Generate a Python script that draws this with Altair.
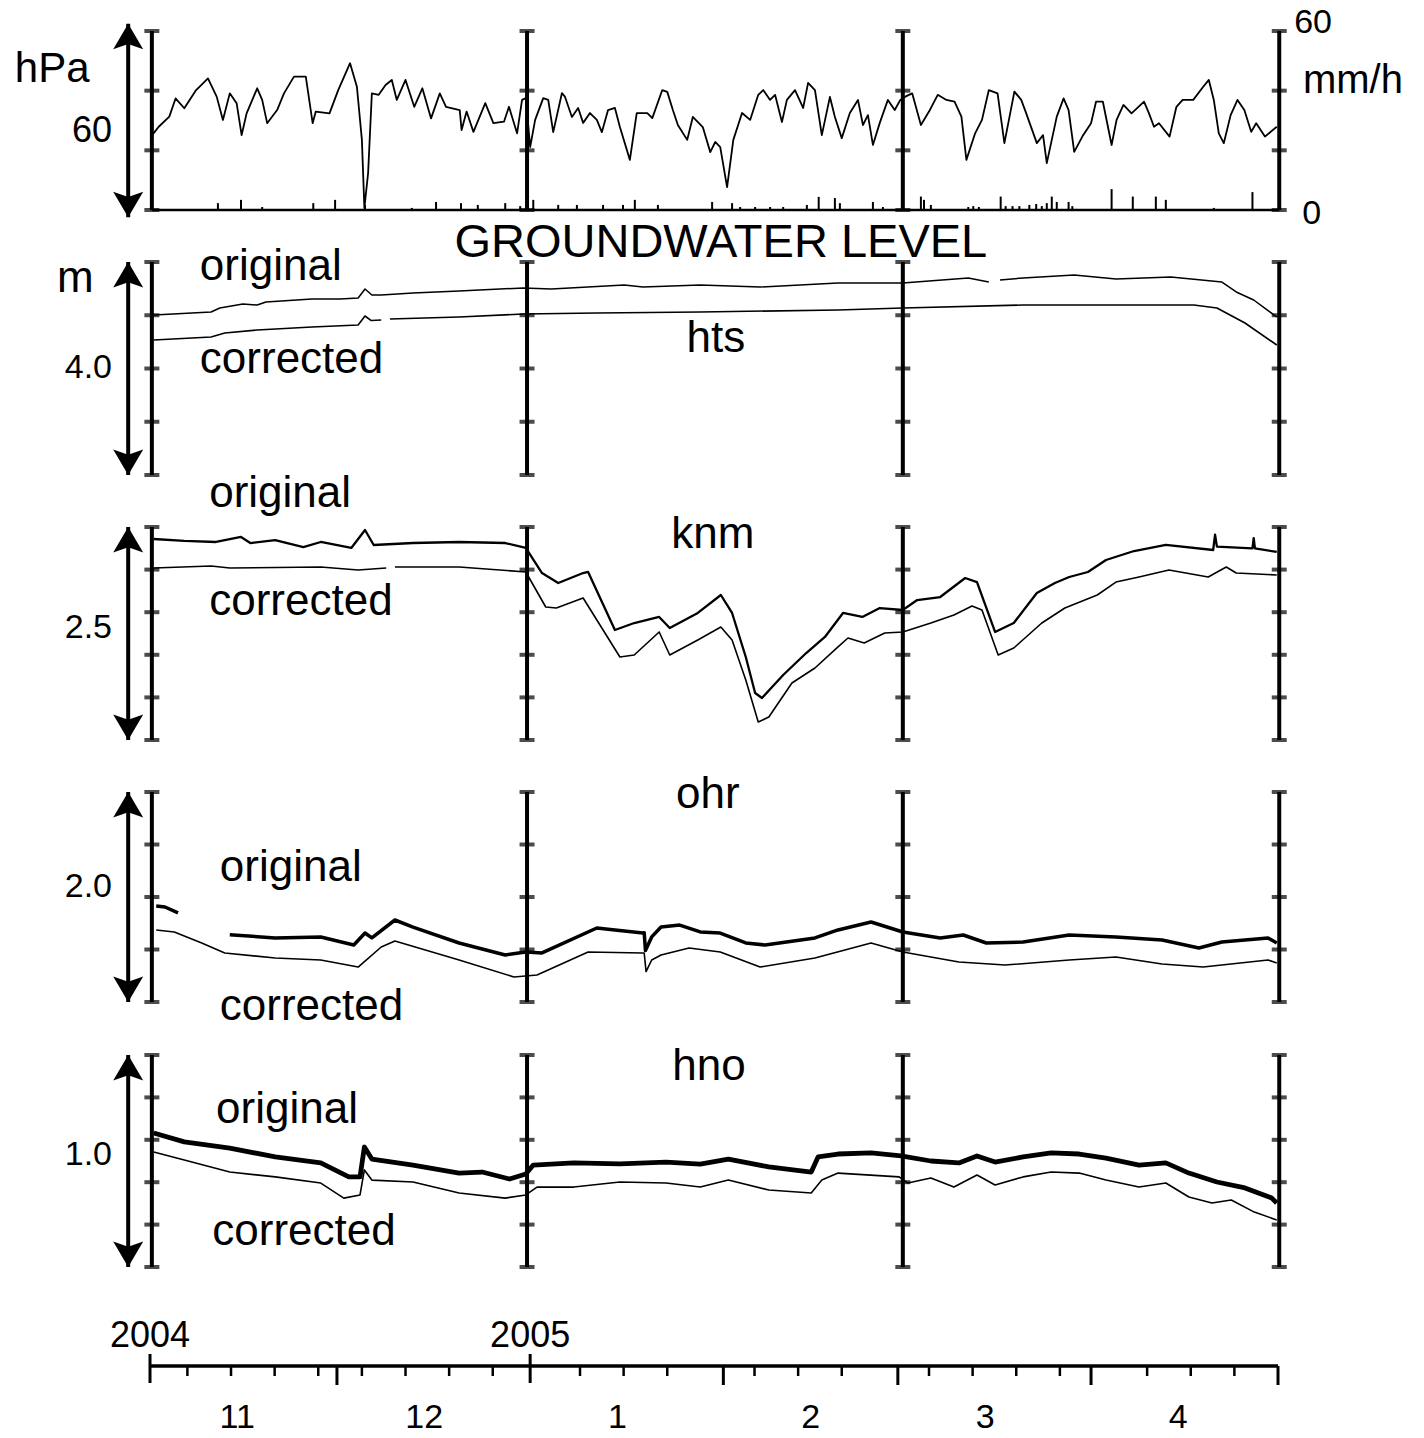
import altair as alt
import pandas as pd

FONT = "Liberation Sans"

# ---------------- data (day = days since 2004-11-01) ----------------
PRESSURE = [  # (day, hPa)
    (0.5, 995.5), (1.4, 997.9), (3.1, 1001.3), (4.1, 1007.4), (5.5, 1004.1), (7.4, 1010.2), (9.3, 1014.1),
    (10.7, 1008.0), (11.7, 1000.2), (12.8, 1009.1), (13.9, 1005.8), (14.7, 995.1), (15.5, 1002.4), (17.2, 1010.8),
    (18.0, 1006.9), (18.8, 999.1), (20.4, 1003.5), (21.5, 1009.1), (23.1, 1014.7), (25.0, 1014.7), (26.1, 999.1),
    (26.6, 1003.0), (28.8, 1002.4), (30.2, 1010.2), (32.1, 1019.2), (33.2, 1011.3), (34.0, 993.5), (34.4, 970.7),
    (35.0, 982.4), (35.6, 1009.1), (36.7, 1008.6), (37.8, 1011.9), (38.8, 1013.6), (39.6, 1006.9), (41.0, 1013.6),
    (42.4, 1004.6), (43.7, 1010.8), (45.1, 1000.7), (46.5, 1009.1), (47.5, 1004.6), (49.7, 1003.5), (50.0, 996.8),
    (50.8, 1003.0), (51.9, 996.2), (53.8, 1005.8), (55.1, 999.1), (56.8, 999.6), (57.6, 1004.6), (58.9, 995.7),
    (59.7, 1006.9), (60.3, 1007.5), (61.0, 991.1), (61.8, 1000.2), (63.1, 1007.5), (63.9, 1006.9), (64.7, 996.1),
    (66.1, 1009.2), (66.6, 1007.9), (67.7, 1001.2), (68.7, 1004.2), (69.5, 999.2), (70.6, 1002.5), (71.7, 1000.2),
    (72.5, 996.1), (73.5, 1003.5), (74.6, 1004.2), (75.4, 997.8), (77.0, 986.8), (78.1, 1002.5), (79.8, 1002.5),
    (80.6, 1000.8), (82.2, 1010.2), (83.0, 1009.6), (83.9, 1003.5), (84.7, 998.5), (86.2, 993.5), (87.1, 1001.2),
    (88.7, 997.8), (89.9, 989.4), (90.7, 992.8), (91.5, 991.1), (92.6, 977.7), (93.6, 993.5), (95.0, 1002.5),
    (96.3, 1000.2), (97.6, 1008.6), (98.4, 1010.2), (99.5, 1006.9), (100.3, 1008.6), (101.4, 999.5), (102.2, 1006.9),
    (103.5, 1010.2), (104.8, 1004.2), (105.6, 1012.6), (106.7, 1010.2), (107.8, 995.1), (109.1, 1007.9),
    (109.9, 1001.2), (111.0, 994.1), (112.3, 1002.5), (113.6, 1006.9), (114.4, 998.5), (115.2, 1001.8),
    (116.0, 991.8), (117.1, 999.2), (118.4, 1006.9), (119.5, 1003.5), (120.4, 1006.9), (121.2, 1008.0),
    (122.3, 1009.1), (123.7, 998.5), (125.0, 1003.0), (126.4, 1008.6), (127.8, 1006.9), (129.1, 1006.3),
    (130.2, 1001.3), (131.0, 986.8), (132.4, 995.7), (133.5, 1000.2), (134.6, 1010.2), (136.0, 1009.1),
    (137.1, 992.4), (138.7, 1009.7), (139.8, 1006.9), (140.6, 1002.4), (142.3, 992.4), (143.3, 995.1),
    (143.9, 985.7), (145.5, 1001.3), (146.6, 1007.4), (147.4, 1003.5), (148.3, 989.5), (149.6, 994.6),
    (151.0, 999.1), (151.8, 1006.3), (152.9, 1006.3), (154.3, 991.8), (155.1, 1000.2), (156.2, 1005.2),
    (157.5, 1002.4), (159.5, 1006.3), (160.3, 1002.4), (161.1, 997.9), (161.9, 999.1), (163.6, 994.6),
    (164.7, 1004.6), (165.7, 1006.9), (167.4, 1006.9), (169.0, 1011.3), (169.9, 1013.6), (170.7, 1006.9),
    (171.5, 995.7), (172.3, 992.4), (173.4, 1001.8), (174.5, 1006.9), (175.6, 1003.5), (176.7, 996.2),
    (177.5, 999.1), (178.9, 994.6), (180.8, 997.9),
]

RAIN = [  # (day, mm/h)
    (10.9, 2.3), (14.6, 3.4), (18.0, 1.0), (26.2, 2.3), (29.7, 3.4), (34.5, 1.7), (42.0, 0.7), (45.9, 2.7),
    (49.9, 2.3), (52.6, 1.7), (57.0, 2.3), (59.4, 1.3), (61.5, 3.4), (65.5, 1.7), (68.5, 1.7), (72.7, 1.7),
    (75.9, 1.7), (77.8, 3.4), (81.5, 1.7), (90.2, 2.7), (93.4, 2.3), (94.7, 1.0), (97.1, 1.0), (99.5, 1.0),
    (101.6, 1.0), (105.4, 1.7), (107.3, 4.4), (109.9, 4.0), (110.7, 2.3), (116.0, 2.7), (117.6, 1.0),
    (123.7, 4.5), (124.2, 3.4), (125.3, 1.7), (131.3, 1.0), (132.1, 1.3), (133.0, 1.0), (136.5, 4.5),
    (137.3, 1.3), (138.4, 1.3), (139.5, 1.3), (141.1, 1.7), (142.2, 2.0), (143.1, 1.3), (143.9, 2.3),
    (144.7, 4.5), (145.5, 2.7), (147.4, 2.7), (148.0, 1.3), (154.3, 7.0), (157.7, 4.5), (161.4, 4.5),
    (163.0, 3.4), (170.7, 0.7), (176.9, 6.0),
]

# groundwater levels (m, relative to bottom of each panel); None = gap in record
HTS_ORIGINAL = [
    (0.6, 3.005), (9.8, 3.061), (11.2, 3.136), (14.9, 3.211), (17.2, 3.192), (18.6, 3.249), (26.0, 3.305),
    (30.5, 3.305), (33.4, 3.324), (34.5, 3.493), (35.6, 3.380), (37.1, 3.380), (42.2, 3.418), (49.6, 3.455),
    (59.9, 3.512), (64.4, 3.493), (76.1, 3.568), (79.1, 3.531), (88.3, 3.568), (97.9, 3.531), (110.4, 3.606),
    (120.8, 3.606), (131.3, 3.700), (134.6, 3.624), None, (136.4, 3.662), (140.1, 3.700), (148.3, 3.756),
    (155.0, 3.681), (163.8, 3.718), (172.0, 3.624), (174.3, 3.437), (177.1, 3.286), (180.8, 2.967),
]
HTS_CORRECTED = [
    (0.6, 2.535), (9.8, 2.592), (12.0, 2.667), (17.2, 2.723), (26.0, 2.779), (33.4, 2.817), (34.5, 2.986),
    (35.5, 2.900), (37.1, 2.911), None, (38.5, 2.930), (49.6, 2.967), (59.9, 3.023), (71.7, 3.042),
    (88.3, 3.061), (110.4, 3.099), (120.8, 3.136), (140.1, 3.192), (167.5, 3.192), (171.2, 3.136),
    (175.7, 2.854), (180.8, 2.441),
]
KNM_ORIGINAL = [
    (0.6, 2.359), (5.5, 2.336), (10.6, 2.324), (14.6, 2.383), (16.1, 2.312), (20.1, 2.347), (24.6, 2.265),
    (27.4, 2.324), (32.3, 2.254), (34.5, 2.465), (35.9, 2.289), (42.2, 2.312), (49.6, 2.324), (57.0, 2.312),
    (60.3, 2.254), (62.9, 1.960), (65.5, 1.843), (69.5, 1.960), (70.3, 1.972), (74.6, 1.291), (77.7, 1.373),
    (81.7, 1.444), (83.4, 1.315), (87.9, 1.491), (91.6, 1.702), (93.4, 1.491), (95.6, 0.974), (97.1, 0.552),
    (98.2, 0.493), (101.6, 0.763), (105.3, 1.021), (108.3, 1.209), (111.2, 1.491), (114.3, 1.444),
    (117.1, 1.549), (120.8, 1.526), (123.1, 1.643), (126.8, 1.678), (130.8, 1.901), (132.7, 1.854),
    (135.6, 1.268), (138.6, 1.373), (142.3, 1.725), (145.2, 1.843), (147.5, 1.913), (150.5, 1.972),
    (153.4, 2.113), (157.9, 2.218), (163.0, 2.289), (170.6, 2.230), (170.9, 2.410), (171.2, 2.270),
    (176.9, 2.250), (177.1, 2.370), (177.3, 2.250), (180.8, 2.207),
]
KNM_CORRECTED = [
    (0.6, 2.019), (9.8, 2.042), (12.8, 2.019), (27.4, 2.031), (33.4, 1.995), (37.9, 2.019), None,
    (39.3, 2.031), (49.6, 2.031), (60.3, 1.972), (63.5, 1.561), (65.2, 1.549), (69.5, 1.667), (75.4, 0.974),
    (77.7, 0.998), (81.7, 1.268), (83.4, 0.998), (87.9, 1.174), (91.6, 1.326), (93.4, 1.174), (95.6, 0.704),
    (97.6, 0.211), (99.3, 0.270), (103.0, 0.669), (106.7, 0.845), (110.4, 1.092), (112.0, 1.197),
    (114.6, 1.138), (117.9, 1.256), (120.8, 1.268), (125.3, 1.373), (129.0, 1.467), (131.9, 1.573),
    (133.5, 1.526), (136.1, 0.998), (138.6, 1.080), (143.1, 1.373), (146.8, 1.549), (152.0, 1.702),
    (155.0, 1.854), (158.7, 1.913), (163.5, 1.995), (169.8, 1.913), (172.7, 2.031), (174.3, 1.960),
    (180.8, 1.937),
]
OHR_ORIGINAL = [
    (1.0, 0.914), (2.4, 0.905), (4.5, 0.848), None,
    (12.8, 0.640), (20.1, 0.610), (27.4, 0.619), (32.7, 0.543), (34.5, 0.657), (35.6, 0.610), (39.3, 0.781),
    (42.2, 0.714), (49.6, 0.562), (57.0, 0.448), (60.3, 0.476), (62.9, 0.467), (71.7, 0.705), (74.6, 0.686),
    (79.1, 0.657), (79.3, 0.660), (79.5, 0.490), (80.5, 0.620), (82.0, 0.714), (85.0, 0.733), (88.3, 0.667),
    (91.5, 0.657), (95.6, 0.562), (98.7, 0.543), (106.7, 0.610), (110.4, 0.686), (115.7, 0.762),
    (120.8, 0.667), (126.8, 0.610), (130.5, 0.638), (134.2, 0.562), (140.1, 0.571), (147.5, 0.638),
    (155.0, 0.619), (162.4, 0.590), (168.3, 0.514), (172.0, 0.571), (179.4, 0.610), (180.8, 0.562),
]
OHR_CORRECTED = [
    (1.0, 0.686), (3.9, 0.667), (8.3, 0.562), (12.0, 0.467), (20.1, 0.419), (27.4, 0.400), (33.4, 0.333),
    (37.1, 0.524), (39.3, 0.581), (49.6, 0.400), (58.4, 0.238), (62.1, 0.257), (70.3, 0.476), (79.1, 0.467),
    (79.3, 0.467), (79.6, 0.290), (80.5, 0.400), (82.0, 0.448), (86.5, 0.514), (91.5, 0.476), (97.9, 0.333),
    (106.7, 0.419), (115.7, 0.562), (120.8, 0.476), (129.8, 0.381), (137.2, 0.352), (147.5, 0.400),
    (155.0, 0.429), (162.4, 0.362), (169.0, 0.333), (179.4, 0.400), (180.8, 0.371),
]
HNO_ORIGINAL = [
    (0.6, 0.632), (5.5, 0.590), (12.8, 0.561), (20.1, 0.519), (27.4, 0.491), (31.9, 0.425), (33.7, 0.425),
    (34.4, 0.566), (35.6, 0.509), (42.2, 0.481), (49.6, 0.443), (53.3, 0.448), (57.7, 0.415), (60.3, 0.439),
    (61.5, 0.481), (68.0, 0.491), (75.4, 0.486), (82.8, 0.495), (88.3, 0.485), (92.8, 0.509), (99.3, 0.472),
    (106.1, 0.448), (107.2, 0.519), (110.4, 0.533), (115.7, 0.538), (120.5, 0.524), (125.3, 0.500),
    (129.8, 0.491), (132.7, 0.524), (135.6, 0.495), (140.1, 0.519), (144.6, 0.538), (149.1, 0.533),
    (153.4, 0.514), (158.7, 0.481), (163.0, 0.491), (166.7, 0.443), (171.2, 0.401), (175.7, 0.373),
    (180.0, 0.325), (180.8, 0.302),
]
HNO_CORRECTED = [
    (0.6, 0.542), (5.5, 0.505), (12.8, 0.448), (20.1, 0.425), (27.4, 0.396), (31.1, 0.325), (33.7, 0.340),
    (34.4, 0.458), (35.6, 0.410), (42.2, 0.401), (49.6, 0.349), (57.0, 0.325), (60.3, 0.340), (62.1, 0.377),
    (68.0, 0.377), (75.4, 0.401), (82.8, 0.396), (88.3, 0.377), (92.8, 0.410), (99.3, 0.363), (106.1, 0.349),
    (107.8, 0.410), (110.4, 0.443), (120.2, 0.425), (121.6, 0.396), (125.3, 0.420), (129.0, 0.377),
    (132.7, 0.434), (135.6, 0.387), (140.1, 0.425), (144.6, 0.448), (149.1, 0.443), (153.4, 0.410),
    (158.7, 0.377), (163.0, 0.396), (166.7, 0.330), (170.4, 0.302), (173.5, 0.316), (177.2, 0.259),
    (180.8, 0.222),
]

TITLE = "GROUNDWATER LEVEL"
SITES = ["hts", "knm", "ohr", "hno"]
SITE_SPANS = ["4.0", "2.5", "2.0", "1.0"]
SERIES_NAMES = ["original", "corrected"]
PRESSURE_UNIT, PRESSURE_SPAN = "hPa", "60"
RAIN_UNIT, RAIN_MAX, RAIN_MIN = "mm/h", "60", "0"
LEVEL_UNIT = "m"
YEAR_LABELS = ["2004", "2005"]
YEAR_DAYS = [0, 61]
MONTH_LABELS = ["11", "12", "1", "2", "3", "4"]
MONTH_MID_DAYS = [14, 44, 75, 106, 134, 165]
MONTH_START_DAYS = [30, 92, 120, 151, 181]
WEEK_DAYS = [6, 13, 20, 27, 34, 41, 48, 55, 69, 76, 83, 97, 104, 111, 125, 132, 139, 146, 160, 167, 174]
DIVIDER_DAYS = [0.3, 60.5, 120.8, 181.2]

# ---------------- layout ----------------
PANELS = {
    "pres": dict(domain=[970, 1030], range=[210, 31], ticks=[970, 990, 1010, 1030]),
    "rain": dict(domain=[0, 60], range=[210, 31]),
    "hts": dict(domain=[0, 4.0], range=[475, 262], ticks=[0, 1, 2, 3, 4]),
    "knm": dict(domain=[0, 2.5], range=[740, 527], ticks=[0, 0.5, 1, 1.5, 2, 2.5]),
    "ohr": dict(domain=[0, 2.0], range=[1002, 792], ticks=[0, 0.5, 1, 1.5, 2]),
    "hno": dict(domain=[0, 1.0], range=[1267, 1055], ticks=[0, 0.2, 0.4, 0.6, 0.8, 1.0]),
}
XS = alt.Scale(domain=[0, 181], nice=False, zero=False)


def ysc(p):
    d = PANELS[p]
    return alt.Scale(domain=d["domain"], range=d["range"], nice=False, zero=False)


def X(field="day"):
    return alt.X(f"{field}:Q", scale=XS, axis=None)


def Y(p, field="v"):
    return alt.Y(f"{field}:Q", scale=ysc(p), axis=None)


def line_layer(pairs, p, width):
    rows, seg = [], 0
    for item in pairs:
        if item is None:
            seg += 1
            continue
        rows.append({"day": item[0], "v": item[1], "seg": seg})
    return alt.Chart(pd.DataFrame(rows)).mark_line(
        color="black", strokeWidth=width, strokeJoin="round"
    ).encode(x=X(), y=Y(p), detail="seg:N", order="day:Q")


def text_layer(p, s, day, v, size, align="left"):
    df = pd.DataFrame({"day": [day], "v": [v], "t": [s]})
    return alt.Chart(df).mark_text(
        align=align, baseline="alphabetic", fontSize=size, font=FONT, color="black"
    ).encode(x=X(), y=Y(p), text="t:N")


def text_px(s, day, ypx, size, align="center"):
    df = pd.DataFrame({"day": [day], "t": [s]})
    return alt.Chart(df).mark_text(
        align=align, baseline="alphabetic", fontSize=size, font=FONT, color="black"
    ).encode(x=X(), y=alt.value(ypx), text="t:N")


ARROW_UP = "M0,0L1,1.7L0,1.35L-1,1.7Z"
ARROW_DOWN = "M0,0L1,-1.7L0,-1.35L-1,-1.7Z"


def frame_layers(p, arrow_ext=0.0):
    d = PANELS[p]
    lo, hi = d["domain"]
    out = []
    bars = pd.DataFrame({"day": DIVIDER_DAYS, "lo": lo, "hi": hi})
    out.append(alt.Chart(bars).mark_rule(color="black", strokeWidth=4).encode(
        x=X(), y=Y(p, "lo"), y2=alt.Y2("hi")))
    ticks = pd.DataFrame([{"day": x, "v": t} for x in DIVIDER_DAYS for t in d["ticks"]])
    out.append(alt.Chart(ticks).mark_tick(orient="horizontal", size=15, thickness=4, color="black").encode(
        x=X(), y=Y(p)))
    ext = (hi - lo) * arrow_ext
    arr = pd.DataFrame({"day": [-3.5], "lo": [lo - ext], "hi": [hi + ext]})
    out.append(alt.Chart(arr).mark_rule(color="black", strokeWidth=4).encode(
        x=X(), y=Y(p, "lo"), y2=alt.Y2("hi")))
    out.append(alt.Chart(arr).mark_point(shape=ARROW_UP, filled=True, size=900, color="black", opacity=1).encode(
        x=X(), y=Y(p, "hi")))
    out.append(alt.Chart(arr).mark_point(shape=ARROW_DOWN, filled=True, size=900, color="black", opacity=1).encode(
        x=X(), y=Y(p, "lo")))
    return out


layers = []

# ---- top panel: pressure + rain ----
layers.append(line_layer(PRESSURE, "pres", 1.8))
rain_df = pd.DataFrame({"day": [r[0] for r in RAIN], "v": [r[1] for r in RAIN], "base": 0.0})
layers.append(alt.Chart(rain_df).mark_rule(color="black", strokeWidth=2).encode(
    x=X(), y=Y("rain"), y2=alt.Y2("base")))
base_df = pd.DataFrame({"d0": [DIVIDER_DAYS[0]], "d1": [DIVIDER_DAYS[-1]], "v": [970]})
layers.append(alt.Chart(base_df).mark_rule(color="black", strokeWidth=2.5).encode(
    x=X("d0"), x2=alt.X2("d1"), y=Y("pres")))
layers += frame_layers("pres", arrow_ext=0.04)
layers.append(text_layer("pres", PRESSURE_UNIT, -15.7, 1012.9, 42, "center"))
layers.append(text_layer("pres", PRESSURE_SPAN, -6.1, 992.8, 36, "right"))
layers.append(text_layer("rain", RAIN_MAX, 183.6, 59.3, 34, "left"))
layers.append(text_layer("rain", RAIN_UNIT, 185.0, 39.2, 40, "left"))
layers.append(text_layer("rain", RAIN_MIN, 184.9, -4.7, 34, "left"))

# ---- groundwater panels ----
series = {
    "hts": (HTS_ORIGINAL, HTS_CORRECTED, 1.5),
    "knm": (KNM_ORIGINAL, KNM_CORRECTED, 2.3),
    "ohr": (OHR_ORIGINAL, OHR_CORRECTED, 3.5),
    "hno": (HNO_ORIGINAL, HNO_CORRECTED, 4.8),
}
# label placement: (site label day/value, "original" day/value, "corrected" day/value, span value)
placement = {
    "hts": ((90.8, 2.310), (8.0, 3.662), (8.0, 1.915), 1.822),
    "knm": ((90.3, 2.254), (9.5, 2.735), (9.5, 1.467), 1.197),
    "ohr": ((89.5, 1.848), (11.2, 1.152), (11.2, -0.171), 1.0),
    "hno": ((89.7, 0.882), (10.6, 0.679), (10.0, 0.104), 0.481),
}
for site, span in zip(SITES, SITE_SPANS):
    orig, corr, w = series[site]
    layers.append(line_layer(orig, site, w))
    layers.append(line_layer(corr, site, 1.6))
    layers += frame_layers(site)
    (sd, sv), (od, ov), (cd, cv), spv = placement[site]
    layers.append(text_layer(site, site, sd, sv, 44, "center"))
    layers.append(text_layer(site, SERIES_NAMES[0], od, ov, 44, "left"))
    layers.append(text_layer(site, SERIES_NAMES[1], cd, cv, 44, "left"))
    layers.append(text_layer(site, span, -6.1, spv, 34, "right"))

layers.append(text_layer("hts", TITLE, 91.6, 4.094, 47, "center"))
layers.append(text_layer("hts", LEVEL_UNIT, -12.0, 3.437, 44, "center"))

# ---- bottom time axis ----
axis_df = pd.DataFrame({"d0": [0], "d1": [181]})
layers.append(alt.Chart(axis_df).mark_rule(color="black", strokeWidth=3.5).encode(
    x=X("d0"), x2=alt.X2("d1"), y=alt.value(1366)))
layers.append(alt.Chart(pd.DataFrame({"day": YEAR_DAYS})).mark_rule(color="black", strokeWidth=3).encode(
    x=X(), y=alt.value(1354), y2=alt.value(1383)))
layers.append(alt.Chart(pd.DataFrame({"day": MONTH_START_DAYS})).mark_rule(color="black", strokeWidth=3).encode(
    x=X(), y=alt.value(1366), y2=alt.value(1385)))
layers.append(alt.Chart(pd.DataFrame({"day": WEEK_DAYS})).mark_rule(color="black", strokeWidth=2.5).encode(
    x=X(), y=alt.value(1366), y2=alt.value(1376)))
for lab, d in zip(YEAR_LABELS, YEAR_DAYS):
    layers.append(text_px(lab, d, 1347, 36, "center"))
for lab, d in zip(MONTH_LABELS, MONTH_MID_DAYS):
    layers.append(text_px(lab, d, 1428, 34, "center"))

chart = alt.layer(*layers).resolve_scale(y="independent").properties(
    width=1128,
    height=1438,
    padding={"left": 150, "right": 146, "top": 0, "bottom": 0},
    autosize=alt.AutoSizeParams(type="none"),
    background="white",
).configure_view(stroke=None)

chart.save("out.html", embed_options={"renderer": "svg", "actions": False})
